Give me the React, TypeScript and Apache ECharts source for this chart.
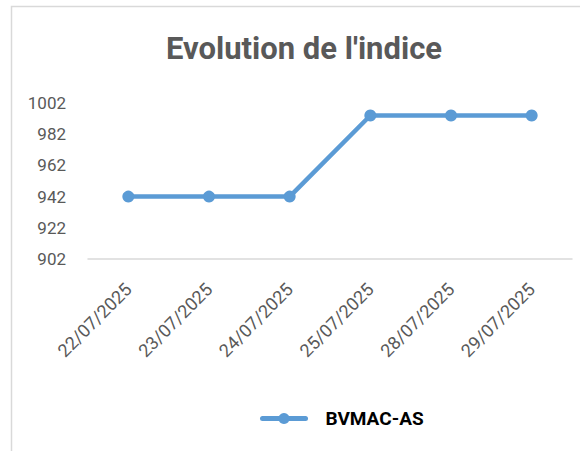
import React, { useEffect, useRef } from "react";
import * as echarts from "echarts";

const categories = ["22/07/2025", "23/07/2025", "24/07/2025", "25/07/2025", "28/07/2025", "29/07/2025"];
const seriesName = "BVMAC-AS";
const values = [942, 942, 942, 994, 994, 994];
const yMin = 902;
const yMax = 1002;
const yStep = 20;

export default function App() {
  const ref = useRef<HTMLDivElement>(null);
  useEffect(() => {
    const chart = echarts.init(ref.current!, null, { renderer: "svg" });
    chart.setOption({
      animation: false,
      backgroundColor: "#ffffff",
      title: {
        text: "Evolution de l'indice",
        left: 304,
        textAlign: "center",
        top: 33,
        padding: 0,
        textStyle: { fontFamily: "Roboto", fontWeight: "bold", fontSize: 31, color: "#595959" },
      },
      graphic: [
        {
          type: "polyline",
          shape: { points: [[11.5, 460], [11.5, 6.5], [600, 6.5]] },
          style: { stroke: "#d9d9d9", lineWidth: 1.5, fill: "none" },
        },
      ],
      legend: {
        left: 260,
        top: 409,
        padding: 0,
        itemWidth: 43,
        itemHeight: 14,
        lineStyle: { width: 5, cap: "round" },
        textStyle: { fontFamily: "Roboto", fontWeight: "bold", fontSize: 19, color: "#000000", padding: [0, 0, 0, 15] },
        data: [seriesName],
      },
      grid: { left: 88, right: 8, top: 103, bottom: 192 },
      xAxis: {
        type: "category",
        data: categories,
        boundaryGap: true,
        axisLine: { lineStyle: { color: "#d9d9d9", width: 1.5 } },
        axisTick: { show: false },
        axisLabel: {
          rotate: 45,
          interval: 0,
          fontFamily: "Roboto",
          fontSize: 18,
          color: "#595959",
          margin: 27,
        },
      },
      yAxis: {
        type: "value",
        min: yMin,
        max: yMax,
        interval: yStep,
        splitLine: { show: false },
        axisLine: { show: false },
        axisTick: { show: false },
        axisLabel: {
          fontFamily: "Roboto",
          fontSize: 17,
          color: "#595959",
          margin: 22,
          formatter: (v: number) => String(v),
        },
      },
      series: [
        {
          name: seriesName,
          type: "line",
          data: values,
          symbol: "circle",
          symbolSize: 12,
          itemStyle: { color: "#5b9bd5" },
          lineStyle: { color: "#5b9bd5", width: 4.5 },
        },
      ],
    });
    return () => chart.dispose();
  }, []);
  return <div ref={ref} style={{ width: 580, height: 451, position: "absolute", left: 0, top: 0 }} />;
}
